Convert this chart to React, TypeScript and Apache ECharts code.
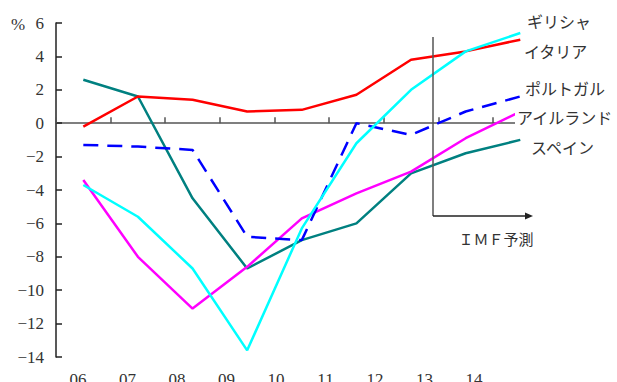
import React, { useEffect, useRef } from "react";
import * as echarts from "echarts";

// Years (20xx) on the horizontal axis
const years = ["06", "07", "08", "09", "10", "11", "12", "13", "14"];

// Real GDP growth rate, % (13–14 are IMF projections)
const greece = [-3.7, -5.6, -8.7, -13.6, -6.3, -1.2, 2.0, 4.3, 5.4];
const italy = [-0.2, 1.6, 1.4, 0.7, 0.8, 1.7, 3.8, 4.3, 5.0];
const portugal = [-1.3, -1.4, -1.6, -6.8, -7.0, 0.0, -0.7, 0.7, 1.6];
const ireland = [-3.4, -8.0, -11.1, -8.6, -5.7, -4.2, -2.9, -0.9, 0.7];
const spain = [2.6, 1.6, -4.5, -8.7, -7.0, -6.0, -3.0, -1.8, -1.0];

const countryNames = ["ギリシャ", "イタリア", "ポルトガル", "アイルランド", "スペイン"];

const yMin = -14;
const yMax = 6;
const yStep = 2;

const serifNum = "Liberation Serif";
const jpFont = "Noto Sans CJK JP";

export default function App() {
  const ref = useRef<HTMLDivElement>(null);

  useEffect(() => {
    if (!ref.current) return;
    const chart = echarts.init(ref.current, null, { renderer: "svg" });

    const lineSeries = (name: string, data: number[], color: string, dashed = false) => ({
      name,
      type: "line",
      xAxisIndex: 0,
      yAxisIndex: 0,
      data,
      symbol: "none",
      z: 3,
      lineStyle: {
        color,
        width: 2.5,
        type: dashed ? [15, 9] : "solid",
      },
    });

    const labelPos: [number, number][] = [
      [525, 21],
      [522, 51],
      [523, 88],
      [515, 117],
      [529, 147],
    ];

    const labelGraphics = countryNames.map((t, i) => ({
      type: "text",
      x: labelPos[i][0],
      y: labelPos[i][1],
      z: 100,
      style: {
        text: t,
        fontFamily: jpFont,
        fontSize: 16,
        fill: "#333",
        verticalAlign: "middle",
        textAlign: "left",
        backgroundColor: "#fff",
        padding: [0, 2, 0, 2],
      },
    }));

    chart.setOption({
      animation: false,
      grid: [
        { left: 56, top: 23, width: 491.6, height: 334, outerBoundsMode: "none" },
        { left: 53.25, top: 23, width: 445.5, height: 334, outerBoundsMode: "none" },
      ],
      xAxis: [
        {
          type: "category",
          gridIndex: 0,
          data: years,
          boundaryGap: true,
          axisLine: { onZero: true, lineStyle: { color: "#555", width: 1.5 } },
          axisTick: { show: true, inside: true, length: 6, lineStyle: { color: "#555", width: 1.5 } },
          axisLabel: { show: false },
          splitLine: { show: false },
        },
        {
          type: "category",
          gridIndex: 1,
          position: "bottom",
          data: years,
          boundaryGap: true,
          axisLine: { show: false },
          axisTick: { show: false },
          axisLabel: {
            show: true,
            margin: 14,
            color: "#333",
            fontFamily: serifNum,
            fontSize: 17,
          },
          splitLine: { show: false },
        },
      ],
      yAxis: [
        {
          type: "value",
          gridIndex: 0,
          min: yMin,
          max: yMax,
          interval: yStep,
          axisLine: { show: true, onZero: false, lineStyle: { color: "#222", width: 1.5 } },
          axisTick: { show: true, inside: true, length: 6, lineStyle: { color: "#222", width: 1.5 } },
          axisLabel: {
            margin: 12,
            color: "#333",
            fontFamily: serifNum,
            fontSize: 17,
            formatter: (v: number) => String(v).replace("-", "\u2212"),
          },
          splitLine: { show: false },
        },
        {
          type: "value",
          gridIndex: 1,
          min: yMin,
          max: yMax,
          show: false,
        },
      ],
      series: [
        lineSeries("スペイン", spain, "#008080"),
        lineSeries("アイルランド", ireland, "#ff00ff"),
        lineSeries("ポルトガル", portugal, "#0000ff", true),
        lineSeries("イタリア", italy, "#ff0000"),
        lineSeries("ギリシャ", greece, "#00ffff"),
      ],
      graphic: [
        {
          type: "text",
          x: 11,
          y: 24,
          z: 100,
          style: {
            text: "%",
            fontFamily: serifNum,
            fontSize: 17,
            fill: "#333",
            verticalAlign: "middle",
          },
        },
        // projection marker: vertical divider and arrow
        {
          type: "line",
          z: 100,
          shape: { x1: 433, y1: 37, x2: 433, y2: 216 },
          style: { stroke: "#555", lineWidth: 1.5 },
        },
        {
          type: "line",
          z: 100,
          shape: { x1: 433, y1: 216, x2: 527, y2: 216 },
          style: { stroke: "#222", lineWidth: 1.5 },
        },
        {
          type: "polygon",
          z: 100,
          shape: { points: [[525, 212.5], [533, 216], [525, 219.5]] },
          style: { fill: "#222" },
        },
        {
          type: "text",
          x: 496,
          y: 238,
          z: 100,
          style: {
            text: "ＩＭＦ予測",
            fontFamily: jpFont,
            fontSize: 15,
            fill: "#333",
            textAlign: "center",
            verticalAlign: "middle",
          },
        },
        ...labelGraphics,
      ],
    });

    return () => chart.dispose();
  }, []);

  return <div ref={ref} style={{ width: 617, height: 382, position: "absolute", left: 0, top: 0 }} />;
}
